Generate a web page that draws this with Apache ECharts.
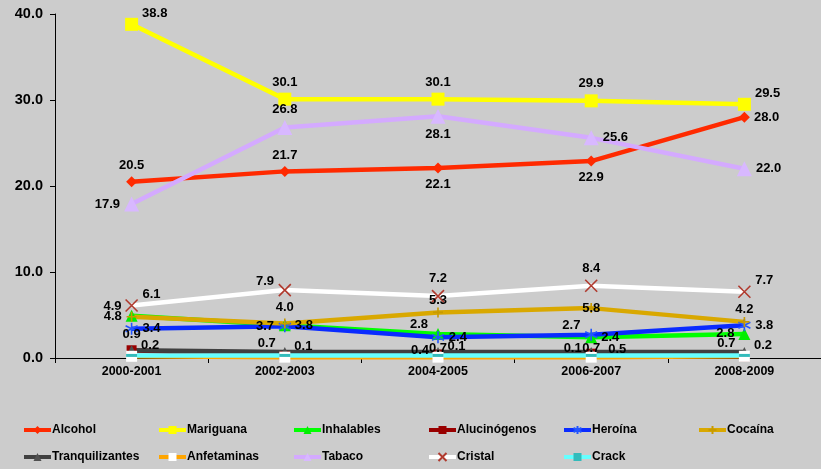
<!DOCTYPE html>
<html><head><meta charset="utf-8">
<script src="https://cdn.jsdelivr.net/npm/echarts@6/dist/echarts.min.js"></script>
<style>html,body{margin:0;padding:0;background:#cccccc;}#c{width:821px;height:469px;}</style>
</head><body><div id="c"></div>
<script>
const categories = ['2000-2001','2002-2003','2004-2005','2006-2007','2008-2009'];
const yTicks = [0, 10, 20, 30, 40];
const alcohol = [20.5, 21.7, 22.1, 22.9, 28.0];
const mariguana = [38.8, 30.1, 30.1, 29.9, 29.5];
const inhalables = [4.9, 3.8, 2.8, 2.4, 2.8];
const alucinogenos = [0.9, 0.2, 0.4, 0.5, 0.2];
const heroina = [3.4, 3.7, 2.4, 2.7, 3.8];
const cocaina = [4.8, 4.0, 5.3, 5.8, 4.2];
const tranquilizantes = [0.9, 0.7, 0.7, 0.7, 0.7];
const anfetaminas = [0.2, 0.1, 0.1, 0.1, 0.2];
const tabaco = [17.9, 26.8, 28.1, 25.6, 22.0];
const cristal = [6.1, 7.9, 7.2, 8.4, 7.7];
const crack = [0.3, 0.3, 0.3, 0.3, 0.3];

// label placement codes per point (null = hidden)
const labelPos = {
  'Alcohol': ['top','top','bottom','bottom','right'],
  'Mariguana': ['tr','top','top','top','tr'],
  'Inhalables': ['tl','right','tl','right','left'],
  'Alucinógenos': ['top',null,'l4','r4',null],
  'Heroína': ['right','left','right','tl','right'],
  'Cocaína': ['left','top','top0','inside','top0'],
  'Tranquilizantes': [null,'tl','c4','c4','tl'],
  'Anfetaminas': ['tr','tr','tr','tl','tr'],
  'Tabaco': ['left','top','bottom','right','right'],
  'Cristal': ['tr','tl','top','top','tr'],
  'Crack': [null,null,null,null,null]
};

const X = 'path://M0,0L10,10M10,0L0,10';
const AST = 'path://M5,0L5,10M0,2.5L10,7.5M0,7.5L10,2.5';
const PLUS = 'path://M5,0L5,10M0,5L10,5';

const seriesDefs = [
  {name:'Alcohol', data:alcohol, line:'#ff2a00', mark:'#ff2a00', symbol:'diamond', size:11},
  {name:'Mariguana', data:mariguana, line:'#ffff00', mark:'#ffff00', symbol:'rect', size:13},
  {name:'Inhalables', data:inhalables, line:'#00ff00', mark:'#00ee00', symbol:'triangle', size:12},
  {name:'Alucinógenos', data:alucinogenos, line:'#990000', mark:'#990000', symbol:'rect', size:10},
  {name:'Heroína', data:heroina, line:'#0a2bff', mark:'#2255ff', symbol:AST, size:12, stroke:true},
  {name:'Cocaína', data:cocaina, line:'#d9a800', mark:'#c89a00', symbol:PLUS, size:10, stroke:true},
  {name:'Tranquilizantes', data:tranquilizantes, line:'#404040', mark:'#505050', symbol:'triangle', size:10},
  {name:'Anfetaminas', data:anfetaminas, line:'#ffa500', mark:'#ffffff', symbol:'rect', size:11},
  {name:'Tabaco', data:tabaco, line:'#d4aaff', mark:'#d8b8ff', symbol:'triangle', size:15},
  {name:'Cristal', data:cristal, line:'#ffffff', mark:'#b03a2e', symbol:X, size:12, stroke:true},
  {name:'Crack', data:crack, line:'#66ffff', mark:'#33bbbb', symbol:'rect', size:[11,3]}
];

function labelFor(code){
  if (!code) return {show:false};
  const base = {show:true, color:'#000', fontWeight:'bold', fontSize:13, fontFamily:'Liberation Sans, Arial, sans-serif', distance:4};
  if (code === 'tr') return Object.assign(base, {position:'right', offset:[0,-11]});
  if (code === 'tl') return Object.assign(base, {position:'left', offset:[0,-9]});
  if (code === 'l4') return Object.assign(base, {position:'left', offset:[0,-4]});
  if (code === 'r4') return Object.assign(base, {position:'right', offset:[8,-4]});
  if (code === 'c4') return Object.assign(base, {position:'inside', offset:[0,-4]});
  if (code === 'top0') return Object.assign(base, {position:'top', distance:0});
  return Object.assign(base, {position:code});
}

const series = seriesDefs.map(d => ({
  name: d.name,
  type: 'line',
  data: d.data.map((v,i) => ({value:v, label:labelFor(labelPos[d.name][i])})),
  symbol: d.symbol,
  symbolSize: d.size,
  showAllSymbol: true,
  lineStyle: {color: d.line, width: 4.5},
  itemStyle: d.stroke ? {color: d.mark, borderColor: d.mark, borderWidth: 1.6} : {color: d.mark, borderWidth: 0},
  label: {formatter: p => p.value.toFixed(1)},
  emphasis: {disabled: true},
  animation: false
}));

const legendX = [22, 157, 292, 427, 562, 697];
const legends = seriesDefs.map((d,i) => ({
  data: [d.name],
  left: legendX[i % 6],
  top: i < 6 ? 424 : 451,
  itemWidth: 27,
  itemHeight: 10,
  padding: 0,
  lineStyle: {width: 4},
  textStyle: {fontWeight:'bold', fontSize:12, color:'#000', fontFamily:'Liberation Sans, Arial, sans-serif', padding:[0,0,0,-4]},
  selectedMode: false
}));

const chart = echarts.init(document.getElementById('c'));
chart.setOption({
  backgroundColor: '#cccccc',
  animation: false,
  grid: {left: 55, right: 0, top: 14, bottom: 111, containLabel: false},
  xAxis: {
    type: 'category',
    data: categories,
    boundaryGap: true,
    axisLine: {lineStyle: {color: '#000', width: 1}},
    axisTick: {show: true, length: 5, lineStyle: {color: '#000'}},
    axisLabel: {fontWeight:'bold', fontSize:12.5, color:'#000', margin: 7, fontFamily:'Liberation Sans, Arial, sans-serif'}
  },
  yAxis: {
    type: 'value',
    min: yTicks[0],
    max: yTicks[yTicks.length-1],
    interval: yTicks[1]-yTicks[0],
    axisLine: {show: true, lineStyle: {color: '#000', width: 1}},
    axisTick: {show: true, length: 5, lineStyle: {color: '#000'}},
    splitLine: {show: false},
    axisLabel: {fontWeight:'bold', fontSize:14.5, color:'#000', margin: 12, formatter: v => v.toFixed(1), fontFamily:'Liberation Sans, Arial, sans-serif'}
  },
  legend: legends,
  series: series
});
</script>
</body></html>
